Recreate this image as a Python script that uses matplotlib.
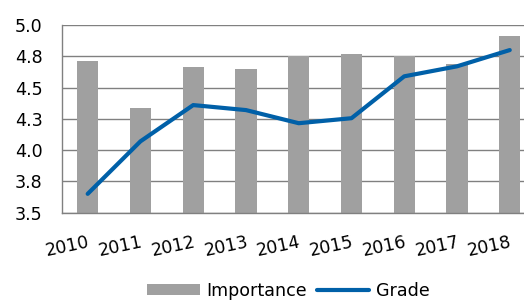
import matplotlib.pyplot as plt
from matplotlib.ticker import FuncFormatter
from decimal import Decimal, ROUND_HALF_UP

years = ["2010", "2011", "2012", "2013", "2014", "2015", "2016", "2017", "2018"]
importance = [4.71, 4.335, 4.665, 4.65, 4.75, 4.77, 4.75, 4.69, 4.91]
grade = [3.65, 4.07, 4.36, 4.32, 4.215, 4.255, 4.59, 4.67, 4.80]
yticks = [3.5, 3.75, 4.0, 4.25, 4.5, 4.75, 5.0]

plt.rcParams['font.family'] = ['DejaVu Sans']


def one_decimal(v, pos):
    # round half up, like the spreadsheet does (4.25 -> 4.3)
    return str(Decimal(str(round(v, 4))).quantize(Decimal('0.1'), rounding=ROUND_HALF_UP))


fig = plt.figure(figsize=(5.24, 3.02), dpi=100)
ax = fig.add_axes([0.118, 0.296, 0.882, 0.621])

x = list(range(len(years)))
bars = ax.bar(x, importance, width=0.4, color='#a0a0a0', label='Importance', zorder=2)
line, = ax.plot(x, grade, color='#0060a8', linewidth=3.0, solid_capstyle='round',
                solid_joinstyle='round', label='Grade', zorder=3)

ax.set_ylim(3.5, 5.0)
ax.set_xlim(-0.49, 8.27)
ax.set_yticks(yticks)
ax.yaxis.set_major_formatter(FuncFormatter(one_decimal))
ax.grid(axis='y', color='#808080', linewidth=1.0, zorder=1)
ax.set_axisbelow(True)

ax.set_xticks(x)
ax.set_xticklabels(years, rotation=12, ha='right', rotation_mode='anchor')
ax.tick_params(axis='both', length=0, labelsize=12.6)
ax.tick_params(axis='y', pad=14)
ax.tick_params(axis='x', pad=15)

for s in ['top', 'right']:
    ax.spines[s].set_visible(False)
for s in ['left', 'bottom']:
    ax.spines[s].set_color('#808080')
    ax.spines[s].set_linewidth(1.0)

fig.legend([bars, line], ['Importance', 'Grade'], loc='lower center',
           bbox_to_anchor=(0.55, -0.045), ncol=2, frameon=False, fontsize=12.6,
           handlelength=3.0, handleheight=0.6, columnspacing=0.6, handletextpad=0.35)

fig.savefig('out.png', dpi=100)
